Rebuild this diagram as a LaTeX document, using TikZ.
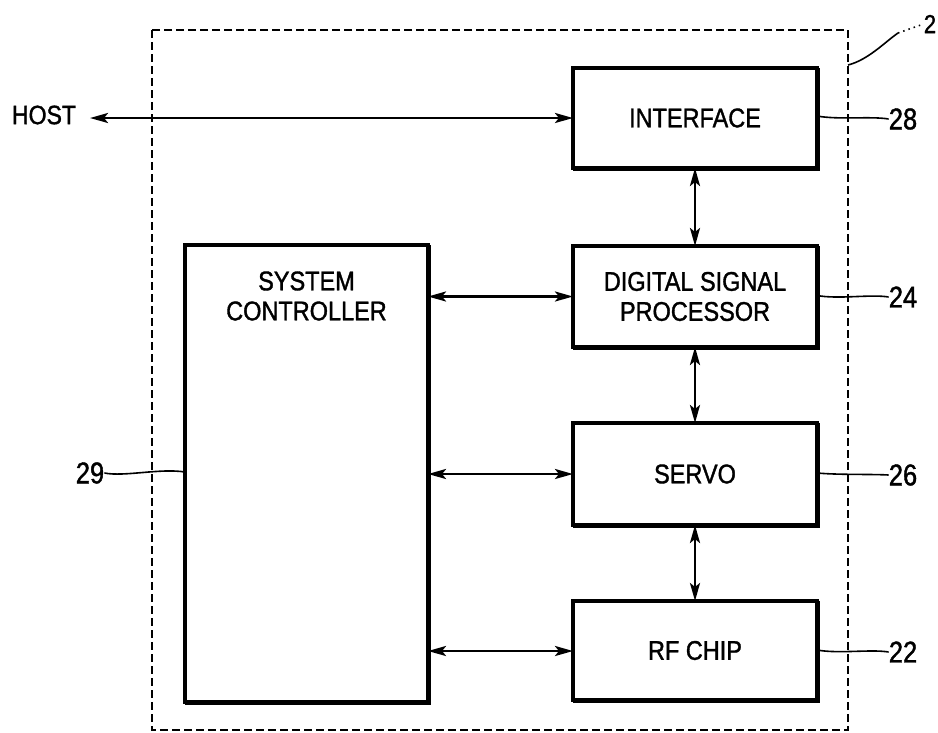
\documentclass[tikz,border=0pt]{standalone}
\usepackage{fontspec}
\setmainfont[FakeBold=1.2]{Liberation Sans}
\newfontfamily\narrowfont[FakeStretch=0.87,FakeBold=1.3]{Liberation Sans}
\newfontfamily\numfont[FakeStretch=0.85,FakeBold=1.3]{Liberation Sans}
\usetikzlibrary{arrows.meta}
\begin{document}
\begin{tikzpicture}[x=1pt,y=-1pt,
  blk/.style={draw,line width=3.1pt,minimum width=244pt,outer sep=0pt,inner sep=0pt,align=center,font=\narrowfont\fontsize{27}{30}\selectfont},
  conn/.style={line width=2.6pt,{Stealth[length=18pt,width=10pt,inset=4pt]}-{Stealth[length=18pt,width=10pt,inset=4pt]}},
  lead/.style={line width=1.6pt},
  lbl/.style={font=\numfont\fontsize{30}{30}\selectfont,inner sep=0pt}]
\useasboundingbox (0,0) rectangle (938,732);
% outer dashed frame
\draw[line width=1.7pt,dash pattern=on 8pt off 4pt] (152,30) rectangle (848,730);
% blocks
\node[blk,minimum height=100pt] (iface) at (695,118) {INTERFACE};
\node[blk,minimum height=101pt] (dsp) at (695,296.5) {DIGITAL SIGNAL\\PROCESSOR};
\node[blk,minimum height=102pt] (servo) at (695,474) {SERVO};
\node[blk,minimum height=99pt] (rf) at (695,650.5) {RF CHIP};
\node[blk,minimum width=243pt,minimum height=457pt] (sc) at (306.5,473.5) {};
\node[font=\narrowfont\fontsize{27}{30}\selectfont,align=center] (sctext) at (306.5,296) {SYSTEM\\CONTROLLER};
% shadow edges
\foreach \n in {iface,dsp,servo,rf,sc}
  \draw[line width=5pt] (\n.north east) -- (\n.south east) -- (\n.south west);
% host
\node[font=\narrowfont\fontsize{26.5}{26.5}\selectfont,inner sep=0pt] (host) at (44,115) {HOST};
\coordinate (hostend) at (90,118);
\draw[conn] (hostend) -- (hostend -| iface.west);
% vertical connections
\draw[conn] (iface.south) -- (dsp.north);
\draw[conn] (dsp.south) -- (servo.north);
\draw[conn] (servo.south) -- (rf.north);
% horizontal connections
\draw[conn] (sc.east |- dsp.west) -- (dsp.west);
\draw[conn] (sc.east |- servo.west) -- (servo.west);
\draw[conn] (sc.east |- 0,651) -- (rf.west |- 0,651);
% reference labels
\node[lbl] (l28) at (903,119) {28};
\node[lbl] (l24) at (903,297) {24};
\node[lbl] (l26) at (903,475) {26};
\node[lbl] (l22) at (903,652) {22};
\node[lbl] (l29) at (90,473) {29};
\node[font=\numfont\fontsize{26}{26}\selectfont,inner sep=0pt] (l2) at (930,24) {2};
\draw[lead] ([yshift=2pt]iface.east) .. controls +(22,4) and +(-18,-3) .. (l28.west);
\draw[lead] ([yshift=1pt]dsp.east) .. controls +(22,4) and +(-18,-3) .. (l24.west);
\draw[lead] ([yshift=1pt]servo.east) .. controls +(22,2) and +(-18,-1) .. (l26.west);
\draw[lead] ([yshift=1pt]rf.east |- 0,651) .. controls +(22,4) and +(-18,-3) .. (l22.west);
\draw[lead] (l29.east) .. controls +(20,4) and +(-25,-4) .. (sc.west |- 0,472);
\coordinate (f2a) at (848,65);
\coordinate (f2b) at (898,33);
\draw[lead] (f2a) .. controls (868,60) and (885,42) .. (f2b);
\draw[lead,dash pattern=on 1.5pt off 4pt] (f2b) -- (l2.west);
\end{tikzpicture}
\end{document}
